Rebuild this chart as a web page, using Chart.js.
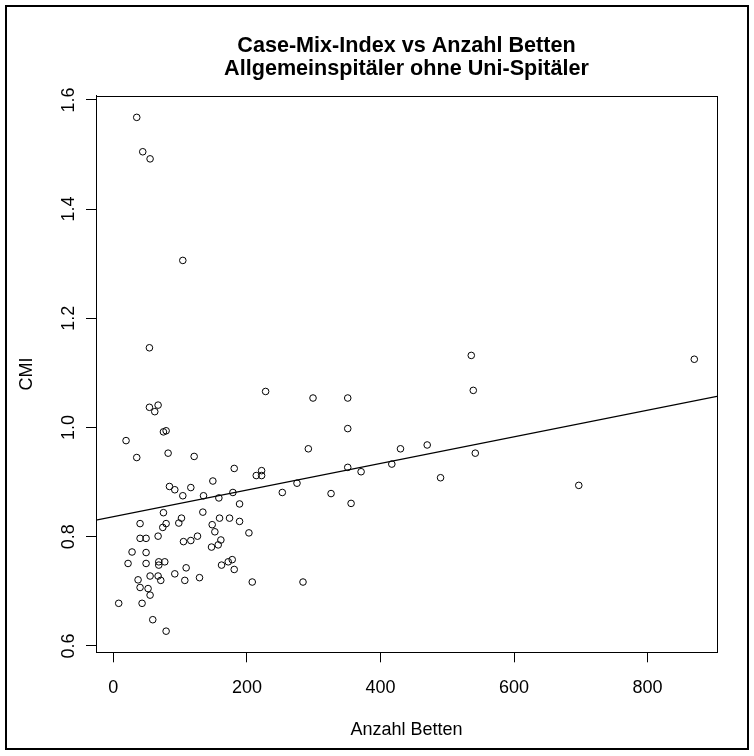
<!DOCTYPE html>
<html>
<head>
<meta charset="utf-8">
<script src="https://cdn.jsdelivr.net/npm/chart.js@4.4.0/dist/chart.umd.min.js"></script>
<style>
html,body{margin:0;padding:0;background:#fff;}
#wrap{width:754px;height:756px;position:relative;}
</style>
</head>
<body>
<div id="wrap"><canvas id="c" width="754" height="756"></canvas></div>
<script>
const titleLines = ['Case-Mix-Index vs Anzahl Betten', 'Allgemeinspitäler ohne Uni-Spitäler'];
const xLabel = 'Anzahl Betten';
const yLabel = 'CMI';
const xTicks = [0, 200, 400, 600, 800];
const yTicks = [0.6, 0.8, 1.0, 1.2, 1.4, 1.6];

const beds = [35,44,55,104,
  54,228,54,67,62,75,79,19,35,82,121,181,222,214,222,253,84,92,116,149,104,135,158,179,189,
  299,351,351,292,430,470,351,371,417,275,326,356,102,134,159,174,189,148,152,203,98,126,161,
  536,539,870,542,490,697,
  75,40,79,74,40,49,67,116,105,147,157,28,49,22,49,68,68,77,109,92,55,67,71,107,129,37,40,52,55,8,43,59,79,162,172,178,181,208,
  284];
const cmi = [1.568,1.505,1.492,1.306,
  1.146,1.066,1.037,1.041,1.029,0.992,0.994,0.976,0.945,0.953,0.947,0.925,0.921,0.912,0.912,0.881,0.892,0.886,0.890,0.902,0.875,0.875,0.871,0.881,0.860,
  1.054,1.054,0.998,0.961,0.961,0.968,0.927,0.919,0.933,0.898,0.879,0.861,0.834,0.845,0.834,0.834,0.828,0.822,0.809,0.807,0.825,0.801,0.794,
  1.132,1.068,1.125,0.953,0.908,0.894,
  0.844,0.824,0.824,0.817,0.797,0.797,0.801,0.793,0.791,0.781,0.785,0.772,0.771,0.751,0.751,0.754,0.748,0.754,0.743,0.732,0.728,0.728,0.720,0.720,0.725,0.721,0.707,0.705,0.693,0.678,0.678,0.648,0.627,0.748,0.754,0.758,0.740,0.717,
  0.717];

// regression line
const fitIntercept = 0.8366;
const fitSlope = 0.0002437;

// axis limits (R style 4% extension)
const xRange = [-26, 904];
const yRange = [0.5883, 1.6077];

const FONT = "'Liberation Sans', Arial, Helvetica, sans-serif";
Chart.defaults.font.family = FONT;
Chart.defaults.color = '#000';

const points = beds.map((b, i) => ({x: b, y: cmi[i]}));
const fitLine = xRange.map(x => ({x: x, y: fitIntercept + fitSlope * x}));

const boxPlugin = {
  id: 'rbox',
  afterDraw(chart) {
    const ctx = chart.ctx, a = chart.chartArea;
    ctx.save();
    ctx.strokeStyle = '#000';
    ctx.lineWidth = 1;
    const l = Math.round(a.left) + 0.5, t = Math.round(a.top) + 0.5;
    const r = Math.round(a.right) + 0.5, b = Math.round(a.bottom) + 0.5;
    ctx.strokeRect(l, t, r - l, b - t);
    ctx.lineWidth = 2;
    ctx.strokeRect(6, 6, 742, 743);
    ctx.restore();
  }
};

new Chart(document.getElementById('c'), {
  type: 'scatter',
  data: {
    datasets: [
      {
        data: points,
        pointStyle: 'circle',
        pointRadius: 3.3,
        pointHoverRadius: 3.3,
        borderWidth: 1,
        borderColor: '#000',
        backgroundColor: 'rgba(0,0,0,0)'
      },
      {
        type: 'line',
        data: fitLine,
        showLine: true,
        pointRadius: 0,
        borderWidth: 1.2,
        borderColor: '#000',
        fill: false
      }
    ]
  },
  options: {
    responsive: false,
    animation: false,
    devicePixelRatio: 1,
    layout: { padding: { left: 0, top: 0, right: 37, bottom: 0 } },
    plugins: {
      legend: { display: false },
      tooltip: { enabled: false },
      title: {
        display: true,
        fullSize: false,
        text: titleLines,
        color: '#000',
        font: { size: 21.6, weight: 'bold', lineHeight: 1.083 },
        padding: { top: 34.1, bottom: 14.8 }
      }
    },
    scales: {
      x: {
        type: 'linear',
        position: 'bottom',
        min: xRange[0],
        max: xRange[1],
        afterBuildTicks: s => { s.ticks = xTicks.map(v => ({value: v})); },
        afterFit: s => { s.height = 103.7; },
        ticks: {
          autoSkip: false,
          maxRotation: 0,
          minRotation: 0,
          padding: 14.9,
          color: '#000',
          font: { size: 18 },
          callback: v => String(v)
        },
        grid: { drawOnChartArea: false, drawTicks: true, tickLength: 10, color: '#000', lineWidth: 1 },
        border: { display: true, color: '#000', width: 1 },
        title: { display: true, text: xLabel, color: '#000', font: { size: 18 }, padding: { top: 0, bottom: 15.2 } }
      },
      y: {
        type: 'linear',
        position: 'left',
        min: yRange[0],
        max: yRange[1],
        afterBuildTicks: s => { s.ticks = yTicks.map(v => ({value: v})); },
        afterFit: s => { s.width = 96; },
        ticks: {
          autoSkip: false,
          minRotation: 90,
          maxRotation: 90,
          crossAlign: 'center',
          padding: 4.5,
          color: '#000',
          font: { size: 18 },
          callback: v => Number(v).toFixed(1)
        },
        grid: { drawOnChartArea: false, drawTicks: true, tickLength: 10, color: '#000', lineWidth: 1 },
        border: { display: true, color: '#000', width: 1 },
        title: { display: true, text: yLabel, color: '#000', font: { size: 18 }, padding: { top: 16.2, bottom: 0 } }
      }
    }
  },
  plugins: [boxPlugin]
});
</script>
</body>
</html>
